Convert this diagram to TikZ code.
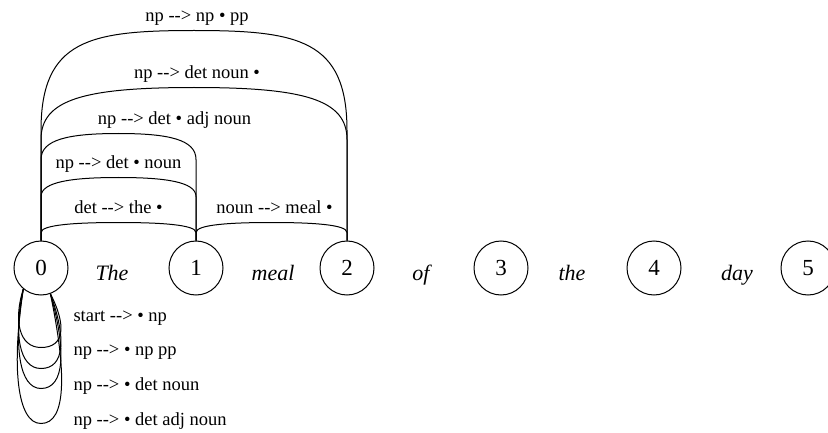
\documentclass[tikz,border=0pt]{standalone}
\usepackage{fontspec}
\setmainfont{Liberation Serif}
\usetikzlibrary{calc}
\newcommand{\goes}{-{}->}

\begin{document}
\begin{tikzpicture}[x=1pt,y=1pt,line width=1pt,
  state/.style={circle,draw,minimum size=54pt,inner sep=0pt,font=\fontsize{23}{26}\selectfont},
  word/.style={anchor=base,font=\fontsize{22}{26}\selectfont\itshape},
  item/.style={above=4.5pt,inner sep=0pt,text depth=4pt,font=\fontsize{18.5}{21}\selectfont},
  loopitem/.style={anchor=base west,inner sep=0pt,font=\fontsize{18.5}{21}\selectfont}]
\useasboundingbox (0,0) rectangle (828,432);
% chart positions and the words between them
\foreach \i/\x in {0/41,1/196,2/347,3/501,4/654,5/808} \node[state] (n\i) at (\x,164) {\i};
\foreach \i/\w/\x in {1/The/112,2/meal/273,3/of/421,4/the/572,5/day/737} \node[word] (w\i) at (\x,152) {\w};
% edges over the chart
\draw (n0.north) -- ++(0,8) .. controls +(0,8) and +(-40,0) .. ($(n0.north)!.5!(n1.north)+(0,18)$) node[item] (e1) {det \goes{} the \textbullet} .. controls +(40,0) and +(0,8) .. ($(n1.north)+(0,8)$) -- (n1.north);
\draw (n0.north) -- ++(0,44) .. controls +(0,15) and +(-45,0) .. ($(n0.north)!.5!(n1.north)+(0,63)$) node[item] (e2) {np \goes{} det \textbullet{} noun} .. controls +(45,0) and +(0,15) .. ($(n1.north)+(0,44)$) -- (n1.north);
\draw (n0.north) -- ++(0,81) .. controls +(0,20) and +(-50,0) .. ($(n0.north)!.5!(n1.north)+(0,107)$) node[item,xshift=56pt] (e3) {np \goes{} det \textbullet{} adj noun} .. controls +(50,0) and +(0,20) .. ($(n1.north)+(0,81)$) -- (n1.north);
\draw (n0.north) -- ++(0,101) .. controls +(0,40) and +(-110,0) .. ($(n0.north)!.5!(n2.north)+(0,153)$) node[item,xshift=3pt] (e4) {np \goes{} det noun \textbullet} .. controls +(110,0) and +(0,40) .. ($(n2.north)+(0,101)$) -- (n2.north);
\draw (n0.north) -- ++(0,110) .. controls +(0,91) and +(-104,0) .. ($(n0.north)!.5!(n2.north)+(0,210)$) node[item,xshift=3pt] (e5) {np \goes{} np \textbullet{} pp} .. controls +(104,0) and +(0,91) .. ($(n2.north)+(0,110)$) -- (n2.north);
\draw (n1.north) -- ++(0,8) .. controls +(0,8) and +(-40,0) .. ($(n1.north)!.5!(n2.north)+(0,18)$) node[item,xshift=3pt] (e6) {noun \goes{} meal \textbullet} .. controls +(40,0) and +(0,8) .. ($(n2.north)+(0,8)$) -- (n2.north);
% predicted items, looping on position 0
\draw (n0.-130) .. controls +(-10,-31) and +(-22,0) .. ($(n0.south)+(0,-52)$) .. controls +(24,0) and +(16,-31) .. (n0.-70);
\draw (n0.-130) .. controls +(-10,-44) and +(-22,0) .. ($(n0.south)+(0,-73)$) .. controls +(24,0) and +(16,-44) .. (n0.-70);
\draw (n0.-130) .. controls +(-10,-56) and +(-22,0) .. ($(n0.south)+(0,-93)$) .. controls +(24,0) and +(16,-56) .. (n0.-70);
\draw (n0.-130) .. controls +(-12,-77) and +(-24,0) .. ($(n0.south)+(0,-128)$) .. controls +(26,0) and +(16,-77) .. (n0.-70);
\node[loopitem] (s1) at (73,111) {start \goes{} \textbullet{} np};
\node[loopitem] (s2) at (73,77) {np \goes{} \textbullet{} np pp};
\node[loopitem] (s3) at (73,42) {np \goes{} \textbullet{} det noun};
\node[loopitem] (s4) at (73,7) {np \goes{} \textbullet{} det adj noun};
\end{tikzpicture}
\end{document}
